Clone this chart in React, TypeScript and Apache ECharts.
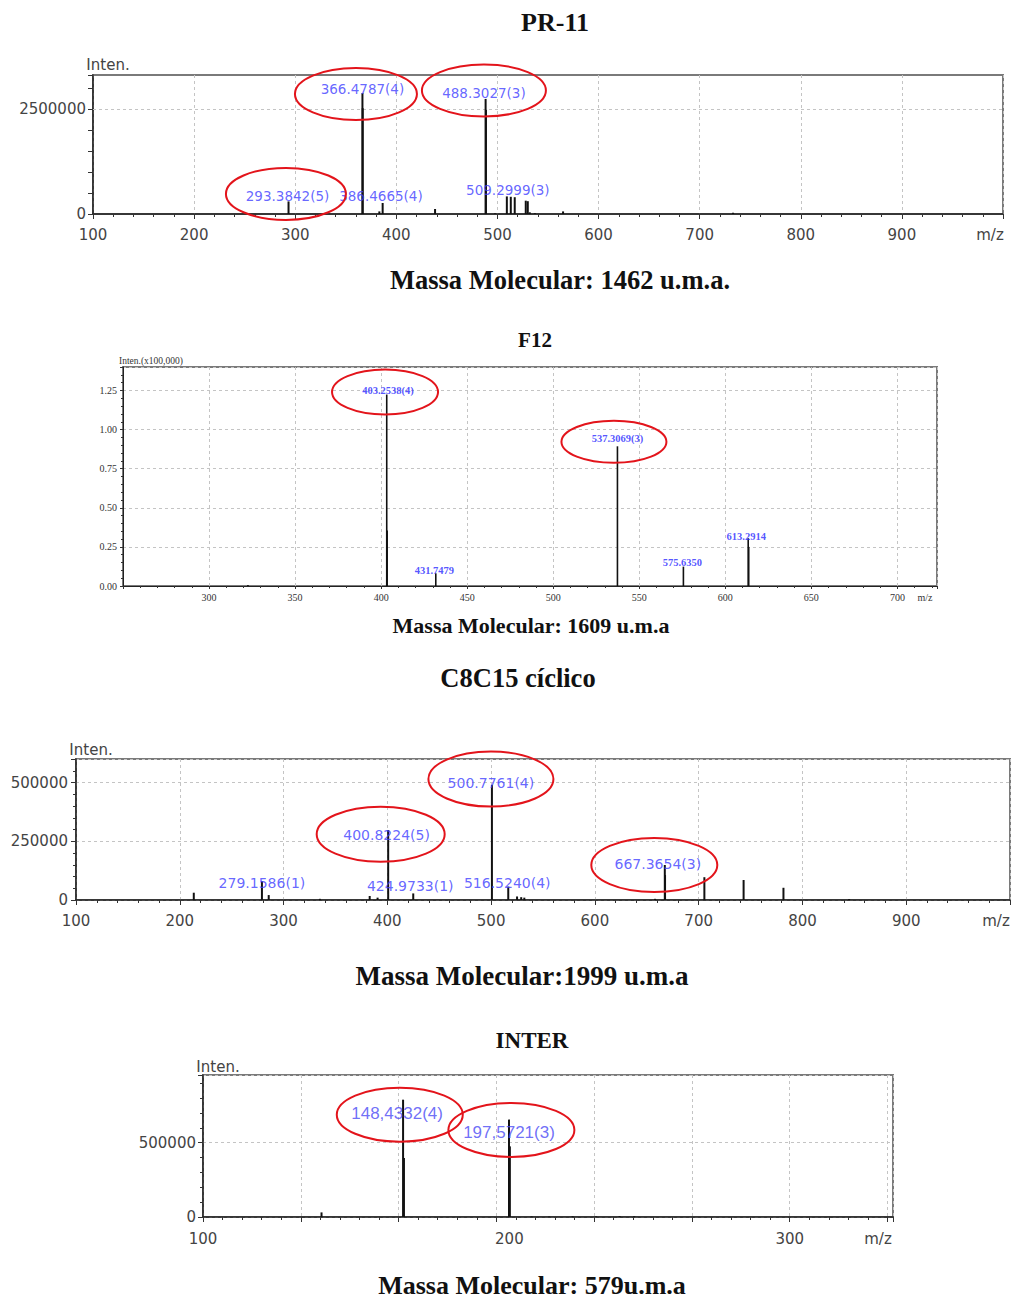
import React, { useEffect, useRef } from "react";
import * as echarts from "echarts";

// ---------------- DATA ----------------
// PR-11
const pr11Mz = [293.38, 366.48, 366.73, 383.2, 386.47, 438.3, 488.3, 488.63, 497.6, 509.3, 513.2, 517.1, 528.0, 530.0, 532.0, 537.0, 564.9, 733.0];
const pr11Int = [300000, 2880000, 2520000, 62000, 262000, 119000, 2740000, 2480000, 15000, 419000, 410000, 400000, 317000, 305000, 40000, 20000, 62000, 30000];
const pr11LabelText = ["366.4787(4)", "488.3027(3)", "293.3842(5)", "386.4665(4)", "509.2999(3)"];
const pr11LabelMz = [366.48, 488.3, 293.38, 386.47, 509.3];
const pr11LabelInt = [2880000, 2740000, 300000, 262000, 419000];
const pr11XTicks = [100, 200, 300, 400, 500, 600, 700, 800, 900];
const pr11YTicks = [0, 2500000];

// F12
const f12Mz = [322.6, 403.25, 403.5, 431.75, 537.31, 575.64, 613.29, 613.6];
const f12Int = [0.006, 1.224, 0.355, 0.081, 0.893, 0.124, 0.306, 0.25];
const f12LabelText = ["403.2538(4)", "431.7479", "537.3069(3)", "575.6350", "613.2914"];
const f12LabelMz = [403.25, 431.75, 537.31, 575.64, 613.29];
const f12LabelInt = [1.224, 0.081, 0.893, 0.124, 0.306];
const f12XTicks = [300, 350, 400, 450, 500, 550, 600, 650, 700];
const f12YTicks = [0, 0.25, 0.5, 0.75, 1.0, 1.25];

// C8C15 cíclico
const c8Mz = [213.5, 279.16, 285.7, 335.0, 383.0, 390.6, 400.82, 424.97, 500.78, 516.52, 525.0, 529.0, 532.0, 658.0, 667.37, 667.6, 705.5, 743.3, 781.7, 845.0];
const c8Int = [31000, 80000, 21000, 5000, 17000, 10000, 298000, 28000, 490000, 57000, 15000, 12000, 10000, 5000, 149000, 106000, 97000, 85000, 52000, 4000];
const c8LabelText = ["500.7761(4)", "400.8224(5)", "279.1586(1)", "424.9733(1)", "516.5240(4)", "667.3654(3)"];
const c8LabelMz = [500.78, 400.82, 279.16, 424.97, 516.52, 667.37];
const c8LabelInt = [490000, 298000, 80000, 28000, 57000, 149000];
const c8XTicks = [100, 200, 300, 400, 500, 600, 700, 800, 900];
const c8YTicks = [0, 250000, 500000];

// INTER
const interMz = [140.4, 168.2, 168.5, 204.3, 204.6, 212, 218, 226, 234, 242, 247];
const interInt = [31000, 789000, 397000, 655000, 475000, 4000, 3000, 5000, 4000, 6000, 5000];
const interLabelText = ["148,4332(4)", "197,5721(3)"];
const interLabelMz = [168.2, 204.3];
const interLabelInt = [789000, 655000];
const interXTicks = [100, 200, 300];
const interYTicks = [0, 500000];

const titles = [
  "PR-11",
  "Massa Molecular: 1462 u.m.a.",
  "F12",
  "Massa Molecular: 1609 u.m.a",
  "C8C15 cíclico",
  "Massa Molecular:1999 u.m.a",
  "INTER",
  "Massa Molecular: 579u.m.a",
];

// ---------------- LAYOUT / STYLE ----------------
const SERIF = '"Liberation Serif", "Times New Roman", serif';
const SANS = '"DejaVu Sans", Tahoma, sans-serif';
const titleLayout = [
  [555, 22, 26],
  [560, 280, 26.5],
  [535, 340, 21],
  [531, 625, 22],
  [518, 678, 26.5],
  [522, 976, 27],
  [532, 1040, 23],
  [532, 1285, 26],
];
const grids = [
  { left: 93, top: 75, width: 910, height: 139 },
  { left: 123, top: 367, width: 814, height: 219 },
  { left: 76, top: 759, width: 934, height: 141 },
  { left: 203, top: 1075, width: 690, height: 142 },
];
const labelOffsets = [
  [[0, -4.5], [-1.7, -6], [-1, -5], [-1.7, -6.6], [1, -6.7]],
  [[1.3, -3.7], [-1.4, -3.3], [0, -8], [-1, -4.4], [-2, -1.6]],
  [[-1, -1.7], [-1.6, 5], [0, 2], [-3, -7.5], [-1, -3.4], [-7, -1]],
  [[-6, 14], [0, 13]],
];
// ellipse: [label index, dx, dy, rx, ry]
const ellipseLayout = [
  [[0, -6.5, 1, 61, 26], [1, -1.7, -8.5, 62, 26], [2, -2.6, -7.5, 60, 26]],
  [[0, -1.7, -2.5, 53, 22.5], [2, -3.5, -4.5, 52.5, 21]],
  [[0, -1, -5.8, 62.5, 27.5], [1, -7.5, 4.2, 64, 27.5], [5, -10.5, 0, 63, 27]],
  [[0, -3.3, 15, 63, 27], [1, 2.4, 10.3, 63, 27]],
];
// per-axis horizontal label nudges (px to the right) to follow the printed scale
const xLabelShift: Record<number, number>[] = [{}, {}, {}, { 200: 13 }];

const near = (v: number, list: number[]) => list.some((t) => Math.abs(t - v) < 1e-6 * Math.max(1, Math.abs(t)));

function peakSeries(i: number, mz: number[], inten: number[], width: number) {
  return {
    type: "custom",
    xAxisIndex: i,
    yAxisIndex: i,
    silent: true,
    z: 3,
    encode: { x: 0, y: 1 },
    data: mz.map((m, k) => [m, inten[k]]),
    renderItem: (_p: any, api: any) => {
      const x = api.value(0);
      const y = api.value(1);
      const a = api.coord([x, 0]);
      const b = api.coord([x, y]);
      return {
        type: "line",
        shape: { x1: a[0], y1: a[1], x2: b[0], y2: b[1] },
        style: { stroke: "#111", lineWidth: width },
      };
    },
  };
}

function labelSeries(i: number, texts: string[], mz: number[], inten: number[], font: any, extra: any = {}) {
  return {
    type: "scatter",
    xAxisIndex: i,
    yAxisIndex: i,
    silent: true,
    symbolSize: 1,
    z: 5,
    itemStyle: { color: "rgba(0,0,0,0)" },
    data: texts.map((t, k) => ({ name: t, value: [mz[k], inten[k]], label: { offset: labelOffsets[i][k] } })),
    label: { show: true, position: "inside", formatter: "{b}", ...font },
    ...extra,
  };
}

const gridLine = { show: true, lineStyle: { color: "#c4c4c4", width: 1, type: [3, 3] } };

function xAxis(i: number, min: number, max: number, interval: number, ticks: number[], mzPad: number, font: any, margin: number, minorSplit: number) {
  const shifts = xLabelShift[i];
  return {
    type: "value",
    gridIndex: i,
    min,
    max,
    interval,
    axisLine: { show: true, onZero: false, lineStyle: { color: "#222", width: i === 1 ? 1 : 1.5 } },
    axisTick: { show: true, length: i === 1 ? 3 : 5, lineStyle: { color: "#333" } },
    minorTick: { show: true, splitNumber: minorSplit, length: i === 1 ? 2 : 3, lineStyle: { color: "#333" } },
    axisLabel: {
      margin,
      ...font,
      formatter: (v: number) => {
        if (Math.abs(v - max) < 1e-6) return "{mz|m/z}";
        const r = Math.round(v);
        if (!(Math.abs(v - r) < 0.01 && ticks.includes(r))) return "";
        return shifts[r] ? "{s|" + r + "}" : String(r);
      },
      rich: {
        mz: { ...font, padding: [0, mzPad, 0, 0] },
        s: { ...font, padding: [0, 0, 0, 26] },
      },
    },
    splitLine: gridLine,
  };
}

function yAxis(i: number, max: number, interval: number, ticks: number[], font: any, margin: number, name: string, nameStyle: any, nameGap: number, fmt: (v: number) => string, split: boolean, minor: number) {
  return {
    type: "value",
    gridIndex: i,
    min: 0,
    max,
    interval,
    name,
    nameLocation: "end",
    nameGap,
    nameTextStyle: nameStyle,
    axisLine: { show: true, onZero: false, lineStyle: { color: "#222", width: i === 1 ? 1 : 1.5 } },
    axisTick: { show: true, length: i === 1 ? 3 : 5, lineStyle: { color: "#333" } },
    minorTick: { show: minor > 0, splitNumber: minor || 5, length: i === 1 ? 2 : 3, lineStyle: { color: "#333" } },
    axisLabel: {
      margin,
      ...font,
      formatter: (v: number) => (near(v, ticks) ? fmt(v) : ""),
    },
    splitLine: split ? gridLine : { show: false },
  };
}

function buildOption() {
  const axFont = { color: "#444", fontFamily: SANS, fontSize: 15 };
  const tinyFont = { color: "#333", fontFamily: SERIF, fontSize: 10 };
  const nameStyle = { color: "#444", fontFamily: SANS, fontSize: 15, align: "center", padding: [0, 0, 0, 30] };
  const p1Font = { color: "#4040ff", fontFamily: SANS, fontSize: 13.5 };
  const p2Font = { color: "#2a2aff", fontFamily: SERIF, fontSize: 10.5, fontWeight: "bold" };
  const p3Font = { color: "#4040ff", fontFamily: SANS, fontSize: 14 };
  const p4Font = { color: "#4a4af5", fontFamily: '"Liberation Sans", Arial, sans-serif', fontSize: 17 };

  return {
    animation: false,
    backgroundColor: "#fff",
    grid: grids.map((g) => ({ ...g, show: true, borderColor: "#7a7a7a", borderWidth: 2, backgroundColor: "transparent" })),
    xAxis: [
      xAxis(0, 100, 1000, 100, pr11XTicks, 26, axFont, 13, 5),
      xAxis(1, 250, 723, 50, f12XTicks, 24, tinyFont, 6, 5),
      xAxis(2, 100, 1000, 100, c8XTicks, 28, axFont, 13, 5),
      xAxis(3, 100, 335.2, 100 / 3, interXTicks, 30, axFont, 14, 5),
    ],
    yAxis: [
      yAxis(0, 3310000, 500000, pr11YTicks, axFont, 7, "Inten.", nameStyle, 3, (v) => String(v), false, 0),
      yAxis(1, 1.4, 0.25, f12YTicks, tinyFont, 6, "Inten.(x100,000)", { color: "#333", fontFamily: SERIF, fontSize: 9.5, align: "left", padding: [0, 0, 0, -4] }, 1, (v) => v.toFixed(2), true, 5),
      yAxis(2, 600000, 250000, c8YTicks, axFont, 8, "Inten.", nameStyle, 2, (v) => String(v), true, 5),
      yAxis(3, 955000, 500000, interYTicks, axFont, 7, "Inten.", nameStyle, 1, (v) => String(v), true, 5),
    ],
    series: [
      peakSeries(0, pr11Mz, pr11Int, 2),
      labelSeries(0, pr11LabelText, pr11LabelMz, pr11LabelInt, p1Font, {
        markLine: {
          silent: true,
          symbol: "none",
          label: { show: false },
          lineStyle: { color: "#c4c4c4", width: 1, type: [3, 3] },
          data: [{ yAxis: 2500000 }],
          z: 1,
        },
      }),
      peakSeries(1, f12Mz, f12Int, 1.6),
      labelSeries(1, f12LabelText, f12LabelMz, f12LabelInt, p2Font),
      peakSeries(2, c8Mz, c8Int, 2),
      labelSeries(2, c8LabelText, c8LabelMz, c8LabelInt, p3Font),
      peakSeries(3, interMz, interInt, 2),
      labelSeries(3, interLabelText, interLabelMz, interLabelInt, p4Font),
    ],
  };
}

export default function App() {
  const ref = useRef<HTMLDivElement>(null);
  useEffect(() => {
    if (!ref.current) return;
    const chart = echarts.init(ref.current, null, { renderer: "svg" });
    chart.setOption(buildOption() as any);

    const labelSets = [
      [pr11LabelMz, pr11LabelInt],
      [f12LabelMz, f12LabelInt],
      [c8LabelMz, c8LabelInt],
      [interLabelMz, interLabelInt],
    ];
    const ellipses: any[] = [];
    ellipseLayout.forEach((list, gi) => {
      list.forEach(([k, dx, dy, rx, ry]) => {
        const p = chart.convertToPixel({ gridIndex: gi } as any, [labelSets[gi][0][k], labelSets[gi][1][k]]) as number[];
        ellipses.push({
          type: "ellipse",
          silent: true,
          z: 100,
          shape: { cx: p[0] + dx, cy: p[1] + dy, rx, ry },
          style: { fill: "none", stroke: "#e3141b", lineWidth: 2 },
        });
      });
    });
    const titleEls = titles.map((t, k) => ({
      type: "text",
      silent: true,
      z: 100,
      x: titleLayout[k][0],
      y: titleLayout[k][1],
      style: {
        text: t,
        fill: "#111",
        align: "center",
        verticalAlign: "middle",
        fontFamily: SERIF,
        fontWeight: "bold",
        fontSize: titleLayout[k][2],
      },
    }));
    chart.setOption({ graphic: { elements: [...titleEls, ...ellipses] } } as any);
    return () => chart.dispose();
  }, []);
  return (
    <div
      ref={ref}
      style={{ position: "absolute", left: 0, top: 0, width: 1014, height: 1298, background: "#fff" }}
    />
  );
}
